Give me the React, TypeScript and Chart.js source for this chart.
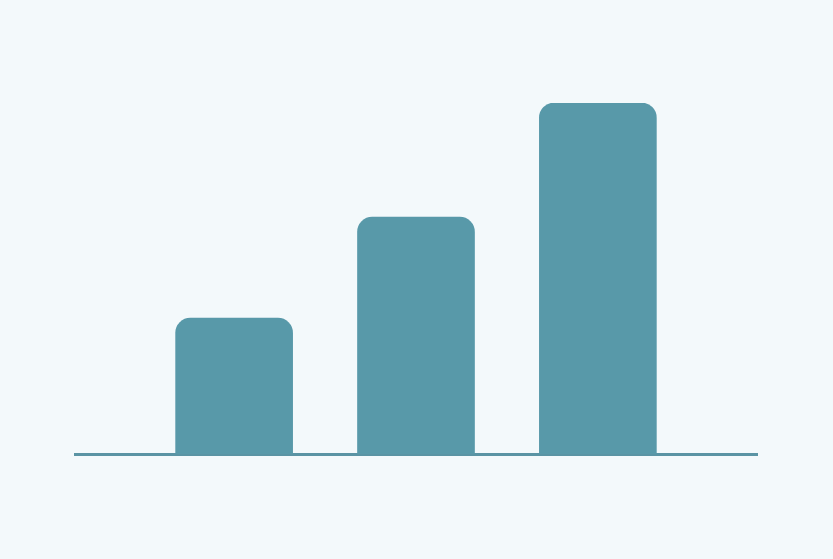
import React, { useEffect, useRef } from "react";
import { Chart, registerables } from "chart.js";

Chart.register(...registerables);

const positions = [1, 2, 3];
const values = [38.7, 67.5, 100];

const BAR_COLOR = "#5899a9";
const LINE_COLOR = "#5a94a4";
const BG = "#f3f9fb";

export default function App() {
  const ref = useRef<HTMLCanvasElement | null>(null);
  useEffect(() => {
    if (!ref.current) return;
    const chart = new Chart(ref.current, {
      type: "bar",
      data: {
        datasets: [
          {
            data: positions.map((x, i) => ({ x, y: values[i] })),
            backgroundColor: BAR_COLOR,
            borderWidth: 0,
            borderRadius: { topLeft: 15, topRight: 15, bottomLeft: 0, bottomRight: 0 },
            borderSkipped: "start",
            barThickness: 117,
          },
        ],
      },
      options: {
        animation: false,
        responsive: false,
        maintainAspectRatio: false,
        layout: { padding: { left: 75, right: 76, top: 103, bottom: 105 } },
        plugins: { legend: { display: false }, tooltip: { enabled: false } },
        scales: {
          x: {
            type: "linear",
            offset: false,
            min: 0.125,
            max: 3.875,
            grid: { display: false, offset: false },
            ticks: { display: false },
            border: { display: true, color: LINE_COLOR, width: 3 },
            afterFit: (s: any) => {
              s.height = 0;
            },
          },
          y: {
            display: false,
            min: 0,
            max: 100,
          },
        },
      },
    });
    return () => chart.destroy();
  }, []);
  return (
    <div style={{ position: "fixed", left: 0, top: 0, width: 833, height: 559, background: BG }}>
      <canvas ref={ref} width={833} height={559} style={{ display: "block", width: 833, height: 559 }} />
    </div>
  );
}
